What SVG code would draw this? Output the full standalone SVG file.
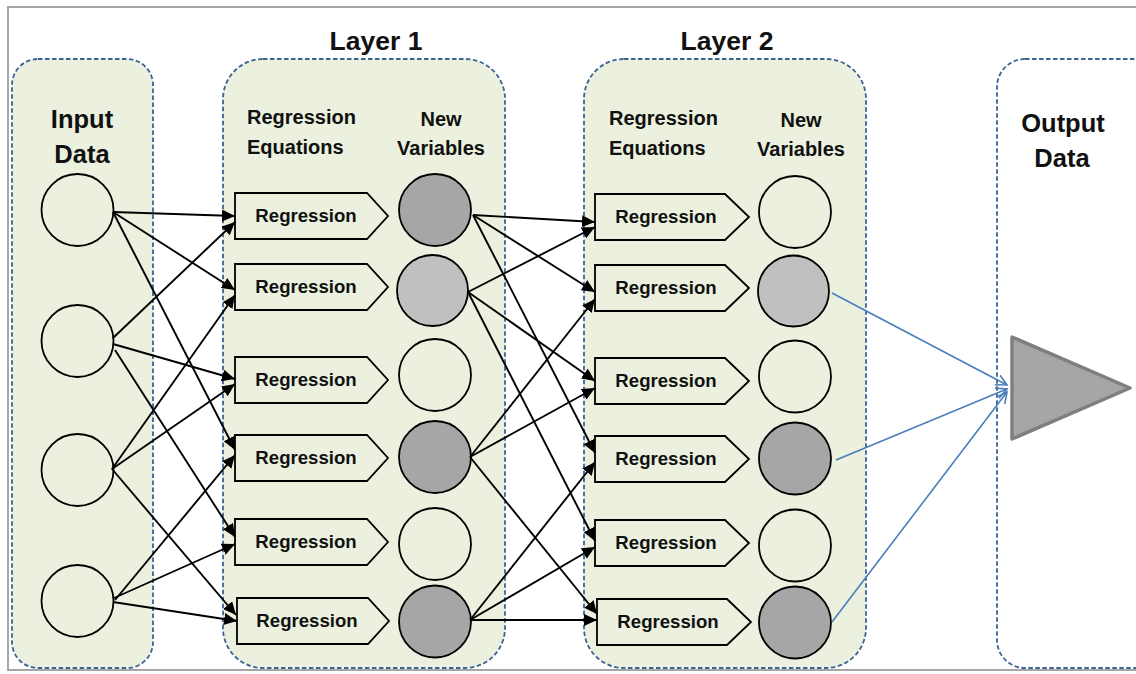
<svg xmlns="http://www.w3.org/2000/svg" width="1136" height="674" viewBox="0 0 1136 674">
<style>
text{font-family:"Liberation Sans",Arial,sans-serif;font-weight:bold;fill:#111}
.panel{fill:#ebf1de;stroke:#3d6294;stroke-width:1.8;stroke-dasharray:4.5 2.5}
.out{fill:#ffffff;stroke:#3d6294;stroke-width:1.8;stroke-dasharray:4.5 2.5}
.box{fill:#ebf1de;stroke:#000;stroke-width:1.8}
.reg{font-size:18.6px;text-anchor:middle}
.hdr{font-size:20px}
.hc{font-size:20px;text-anchor:middle}
.big{font-size:25.5px;text-anchor:middle}
.title{font-size:26.5px;text-anchor:middle}
.c{stroke:#000;stroke-width:1.8}
.e{fill:#ebf1de}
.d{fill:#a6a6a6}
.l{fill:#c0c0c0}
.blk{stroke:#000;stroke-width:1.9;fill:none;marker-end:url(#ah)}
.blu{stroke:#4a7ebb;stroke-width:1.6;fill:none;marker-end:url(#bh)}
</style>
<defs>
<marker id="ah" markerUnits="userSpaceOnUse" markerWidth="15" markerHeight="13" refX="13" refY="6" orient="auto">
<path d="M0,0 L13,6 L0,12 z" fill="#000"/>
</marker>
<marker id="bh" markerUnits="userSpaceOnUse" markerWidth="13" markerHeight="13" refX="11" refY="6" orient="auto">
<path d="M0,0.5 L11,6 L0,11.5" fill="none" stroke="#4a7ebb" stroke-width="1.6"/>
</marker>
</defs>
<rect x="0" y="0" width="1136" height="674" fill="#ffffff"/>
<rect x="8" y="7" width="1140" height="663" fill="none" stroke="#a6a6a6" stroke-width="2"/>

<g id="input-panel">
<rect class="panel" x="12" y="59" width="141" height="609" rx="26"/>
<text class="big" x="82" y="128">Input</text>
<text class="big" x="82" y="163">Data</text>
<circle class="c e" cx="77.5" cy="210" r="36"/>
<circle class="c e" cx="77.5" cy="341" r="36"/>
<circle class="c e" cx="77.5" cy="470" r="36"/>
<circle class="c e" cx="77.5" cy="601" r="36"/>
</g>

<g id="layer1">
<rect class="panel" x="223" y="59" width="282" height="609" rx="40"/>
<text class="title" x="376" y="50">Layer 1</text>
<text class="hdr" x="247" y="124">Regression</text>
<text class="hdr" x="247" y="154">Equations</text>
<text class="hc" x="441" y="126">New</text>
<text class="hc" x="441" y="155">Variables</text>
<g id="l1-reg1"><polygon class="box" points="235,193 367,193 388,216 367,239 235,239"/><text class="reg" x="306" y="222">Regression</text></g>
<g id="l1-reg2"><polygon class="box" points="235,264 367,264 388,287 367,310 235,310"/><text class="reg" x="306" y="293">Regression</text></g>
<g id="l1-reg3"><polygon class="box" points="235,357 367,357 388,380 367,403 235,403"/><text class="reg" x="306" y="386">Regression</text></g>
<g id="l1-reg4"><polygon class="box" points="235,435 367,435 388,458 367,481 235,481"/><text class="reg" x="306" y="464">Regression</text></g>
<g id="l1-reg5"><polygon class="box" points="235,519 367,519 388,542 367,565 235,565"/><text class="reg" x="306" y="548">Regression</text></g>
<g id="l1-reg6"><polygon class="box" points="237,598 368,598 389,621 368,644 237,644"/><text class="reg" x="307" y="627">Regression</text></g>
<circle id="l1-v1" class="c d" cx="435" cy="210" r="36"/>
<circle id="l1-v2" class="c l" cx="432.5" cy="290.5" r="35.5"/>
<circle id="l1-v3" class="c e" cx="435" cy="375" r="36"/>
<circle id="l1-v4" class="c d" cx="435" cy="457" r="36"/>
<circle id="l1-v5" class="c e" cx="435" cy="544" r="36"/>
<circle id="l1-v6" class="c d" cx="435" cy="621.5" r="36"/>
</g>

<g id="layer2">
<rect class="panel" x="584" y="59" width="282" height="609" rx="40"/>
<text class="title" x="727" y="50">Layer 2</text>
<text class="hdr" x="609" y="125">Regression</text>
<text class="hdr" x="609" y="155">Equations</text>
<text class="hc" x="801" y="127">New</text>
<text class="hc" x="801" y="156">Variables</text>
<g id="l2-reg1"><polygon class="box" points="595,194 725,194 749,217 725,240 595,240"/><text class="reg" x="666" y="223">Regression</text></g>
<g id="l2-reg2"><polygon class="box" points="595,265 725,265 749,288 725,311 595,311"/><text class="reg" x="666" y="294">Regression</text></g>
<g id="l2-reg3"><polygon class="box" points="595,358 725,358 749,381 725,404 595,404"/><text class="reg" x="666" y="387">Regression</text></g>
<g id="l2-reg4"><polygon class="box" points="595,436 725,436 749,459 725,482 595,482"/><text class="reg" x="666" y="465">Regression</text></g>
<g id="l2-reg5"><polygon class="box" points="595,520 725,520 749,543 725,566 595,566"/><text class="reg" x="666" y="549">Regression</text></g>
<g id="l2-reg6"><polygon class="box" points="597,599 727,599 751,622 727,645 597,645"/><text class="reg" x="668" y="628">Regression</text></g>
<circle id="l2-v1" class="c e" cx="795" cy="212" r="36"/>
<circle id="l2-v2" class="c l" cx="793.5" cy="291" r="35.5"/>
<circle id="l2-v3" class="c e" cx="795" cy="376.5" r="36"/>
<circle id="l2-v4" class="c d" cx="795" cy="458.5" r="36"/>
<circle id="l2-v5" class="c e" cx="795" cy="545.5" r="36"/>
<circle id="l2-v6" class="c d" cx="795" cy="622.5" r="36"/>
</g>

<g id="output">
<rect class="out" x="997" y="59" width="170" height="609" rx="28"/>
<text class="big" x="1063" y="132">Output</text>
<text class="big" x="1062" y="167">Data</text>
<polygon points="1012,337 1130,388 1012,439" fill="#a6a6a6" stroke="#7f7f7f" stroke-width="3.5" stroke-linejoin="round"/>
</g>

<g id="connectors">
<line class="blk" x1="113" y1="212" x2="235" y2="216"/>
<line class="blk" x1="113" y1="212" x2="235" y2="290"/>
<line class="blk" x1="113" y1="212" x2="235" y2="450"/>
<line class="blk" x1="113" y1="338" x2="235" y2="222"/>
<line class="blk" x1="113" y1="344" x2="235" y2="379"/>
<line class="blk" x1="115" y1="350" x2="235" y2="537"/>
<line class="blk" x1="112" y1="469" x2="235" y2="295"/>
<line class="blk" x1="112" y1="469" x2="235" y2="384"/>
<line class="blk" x1="112" y1="469" x2="236" y2="615"/>
<line class="blk" x1="115" y1="600" x2="235" y2="455"/>
<line class="blk" x1="114" y1="598" x2="235" y2="544"/>
<line class="blk" x1="113" y1="602" x2="237" y2="621"/>

<line class="blk" x1="473" y1="215" x2="595" y2="222"/>
<line class="blk" x1="473" y1="215" x2="595" y2="292"/>
<line class="blk" x1="473" y1="215" x2="595" y2="453"/>
<line class="blk" x1="468" y1="292" x2="595" y2="227"/>
<line class="blk" x1="468" y1="292" x2="595" y2="381"/>
<line class="blk" x1="468" y1="292" x2="595" y2="541"/>
<line class="blk" x1="470" y1="457" x2="595" y2="299"/>
<line class="blk" x1="470" y1="457" x2="595" y2="388"/>
<line class="blk" x1="470" y1="457" x2="597" y2="614"/>
<line class="blk" x1="470" y1="620" x2="595" y2="462"/>
<line class="blk" x1="470" y1="620" x2="595" y2="547"/>
<line class="blk" x1="470" y1="620" x2="597" y2="620"/>

<line class="blu" x1="832" y1="293" x2="1007" y2="385"/>
<line class="blu" x1="836" y1="460" x2="1007" y2="389"/>
<line class="blu" x1="832" y1="622" x2="1007" y2="392"/>
</g>
</svg>
